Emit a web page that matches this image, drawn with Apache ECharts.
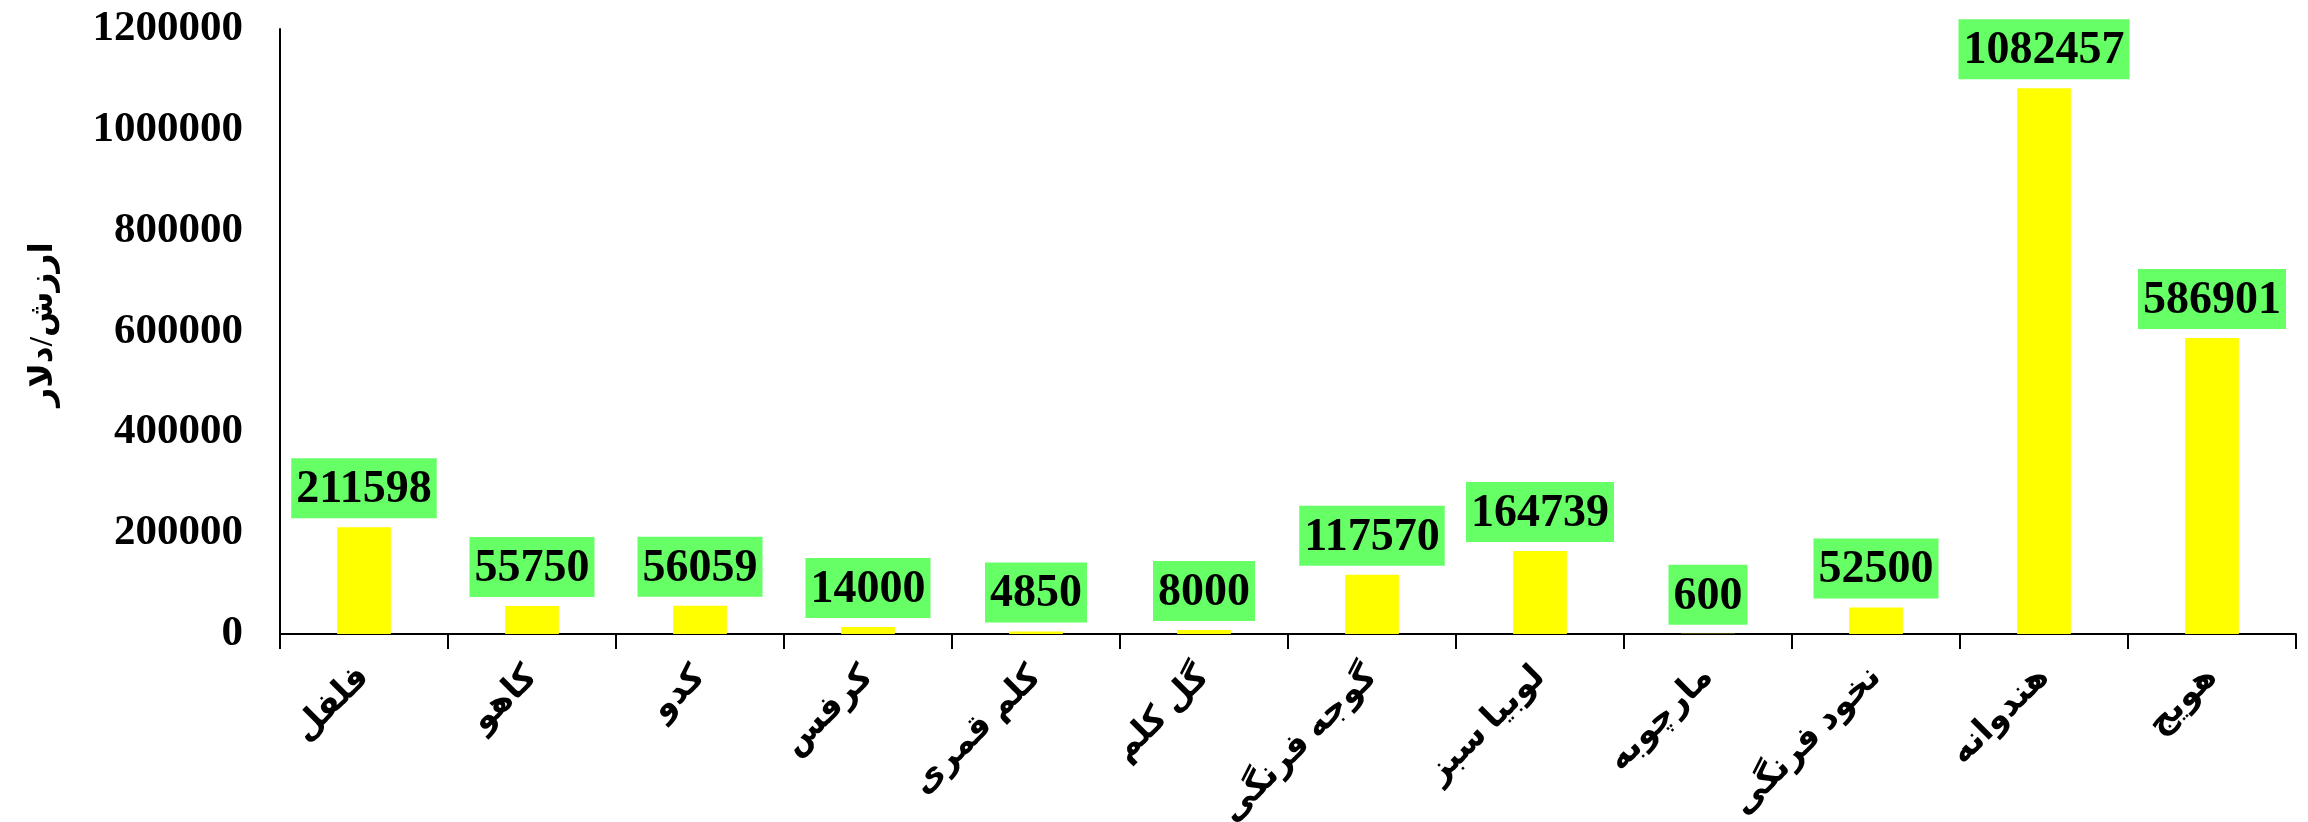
<!DOCTYPE html>
<html><head><meta charset="utf-8">
<script src="https://cdn.jsdelivr.net/npm/echarts@6/dist/echarts.min.js"></script>
<style>html,body{margin:0;padding:0;background:#fff;}#c{width:2308px;height:822px;}</style>
</head><body><div id="c"></div>
<script>
const categories = ['فلفل','کاهو','کدو','کرفس','کلم قمری','گل کلم','گوجه فرنگی','لوبیا سبز','مارچوبه','نخود فرنگی','هندوانه','هویج'];
const values = [211598, 55750, 56059, 14000, 4850, 8000, 117570, 164739, 600, 52500, 1082457, 586901];
const yTitle = 'ارزش/دلار';
const yMin = 0, yMax = 1200000, yStep = 200000;

const chart = echarts.init(document.getElementById('c'), null, {renderer:'canvas'});
chart.setOption({
  animation:false,
  backgroundColor:'#fff',
  grid:{left:280, right:12, top:29, bottom:188, containLabel:false, outerBoundsMode:'none'},
  xAxis:{
    type:'category', data:categories,
    boundaryGap:true,
    axisLine:{lineStyle:{color:'#000', width:2}},
    axisTick:{show:true, length:15, lineStyle:{color:'#000', width:2}},
    axisLabel:{rotate:45, margin:38, color:'#000', fontWeight:'bold', fontSize:34,
      fontFamily:'"Liberation Serif","DejaVu Sans",serif', interval:0}
  },
  yAxis:{
    type:'value', min:yMin, max:yMax, interval:yStep,
    name:yTitle, nameLocation:'middle', nameGap:220, nameRotate:90,
    nameTextStyle:{color:'#000', fontWeight:'bold', fontSize:33, fontFamily:'"Liberation Serif","DejaVu Sans",serif', padding:[0,0,0,14]},
    axisLine:{show:true, lineStyle:{color:'#000', width:2}},
    axisTick:{show:false},
    splitLine:{show:false},
    axisLabel:{margin:37, color:'#000', fontWeight:'bold', fontSize:43, fontFamily:'"Liberation Serif",serif',
      formatter:function(v){return String(v);}}
  },
  series:[{
    type:'bar', data:values, barWidth:'32%',
    itemStyle:{color:'#FFFF00'},
    label:{show:true, position:'top', distance:9, color:'#000', fontWeight:'bold', fontSize:46,
      fontFamily:'"Liberation Serif",serif', backgroundColor:'#66FF66', padding:[9,5,5,5]}
  }]
});
</script></body></html>
